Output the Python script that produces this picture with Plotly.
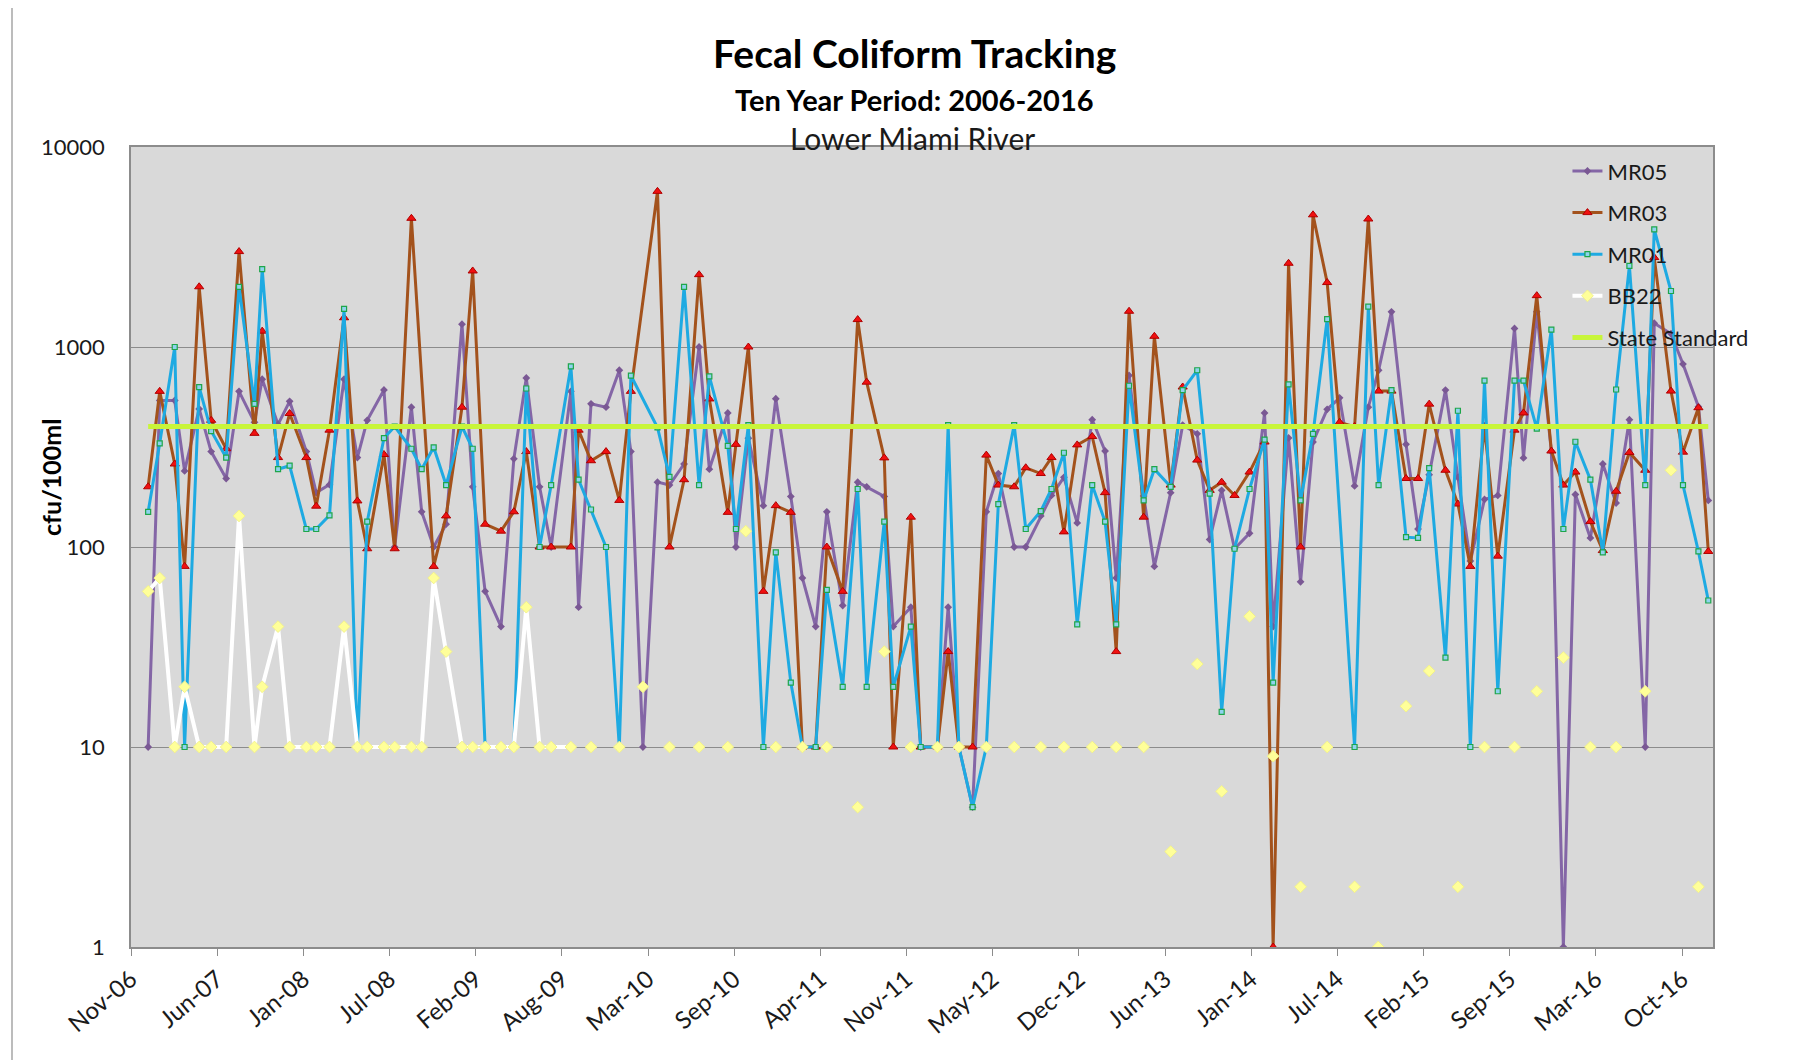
import pandas as pd
import plotly.graph_objects as go

# ---------------- data ----------------
sample_dates = [
    "2007-01-06", "2007-02-02", "2007-03-09", "2007-04-01", "2007-05-05", "2007-06-02",
    "2007-07-07", "2007-08-06", "2007-09-11", "2007-09-29", "2007-11-05", "2007-12-02",
    "2008-01-10", "2008-02-02", "2008-03-04", "2008-04-07", "2008-05-08", "2008-05-31",
    "2008-07-09", "2008-08-03", "2008-09-11", "2008-10-05", "2008-11-02", "2008-12-01",
    "2009-01-07", "2009-02-01", "2009-03-02", "2009-04-08", "2009-05-08", "2009-06-06",
    "2009-07-07", "2009-08-03", "2009-09-18", "2009-10-06", "2009-11-04", "2009-12-09",
    "2010-01-09", "2010-02-05", "2010-03-05", "2010-04-08", "2010-05-06", "2010-06-09",
    "2010-07-14", "2010-08-07", "2010-09-19", "2010-10-08", "2010-11-06", "2010-12-11",
    "2011-01-09", "2011-02-13", "2011-03-12", "2011-04-12", "2011-05-08", "2011-06-14",
    "2011-07-19", "2011-08-09", "2011-09-19", "2011-10-10", "2011-11-20", "2011-12-13",
    "2012-01-21", "2012-02-15", "2012-03-11", "2012-04-12", "2012-05-14", "2012-06-11",
    "2012-07-18", "2012-08-14", "2012-09-18", "2012-10-13", "2012-11-11", "2012-12-12",
    "2013-01-16", "2013-02-15", "2013-03-13", "2013-04-12", "2013-05-16", "2013-06-10",
    "2013-07-18", "2013-08-15", "2013-09-18", "2013-10-17", "2013-11-14", "2013-12-14",
    "2014-01-18", "2014-02-22", "2014-03-14", "2014-04-19", "2014-05-17", "2014-06-15",
    "2014-07-18", "2014-08-16", "2014-09-20", "2014-10-22", "2014-11-15", "2014-12-15",
    "2015-01-18", "2015-02-15", "2015-03-13", "2015-04-20", "2015-05-19", "2015-06-17",
    "2015-07-20", "2015-08-20", "2015-09-28", "2015-10-19", "2015-11-19", "2015-12-23",
    "2016-01-20", "2016-02-17", "2016-03-23", "2016-04-21", "2016-05-22", "2016-06-22",
    "2016-07-29", "2016-08-19", "2016-09-27", "2016-10-25", "2016-11-30", "2016-12-23",
]

mr05 = [
    10, 540, 540, 240, 490, 300, 220, 600, 420, 690, 410, 535,
    300, 187, 205, 690, 280, 430, 610, 100, 500, 150, 100, 130,
    1300, 200, 60, 40, 276, 700, 200, 100, 600, 50, 520, 500,
    765, 300, 10, 211, 204, 260, 1000, 245, 468, 100, 350, 161,
    551, 179, 70, 40, 150, 51, 211, 200, 179, 40, 50, 10,
    10, 50, 10, 5, 150, 233, 100, 100, 143, 181, 223, 132,
    433, 302, 70, 721, 180, 80, 187, 407, 368, 109, 192, 98,
    117, 468, 40, 351, 67, 335, 488, 557, 202, 500, 765, 1500,
    326, 123, 230, 609, 223, 85, 173, 181, 1238, 279, 1500, 300,
    1, 183, 111, 260, 166, 433, 10, 1315, 1165, 822, 503, 171,
]

mr03 = [
    200, 600, 260, 80, 2000, 430, 310, 3000, 370, 1200, 280, 465,
    280, 160, 384, 1400, 170, 98, 290, 98, 4400, None, 80, 143,
    500, 2400, 130, 120, 150, 300, 100, 100, 100, 384, 270, 300,
    171, 600, None, 6000, 100, 217, 2300, 550, 149, 326, 1000, 60,
    161, 149, 10, 10, 100, 60, 1371, 667, 279, 10, 141, 10,
    10, 30, 10, 10, 288, 204, 200, 249, 233, 280, 119, 324,
    357, 187, 30, 1509, 141, 1131, 204, 631, 272, 192, 211, 181,
    237, 335, 1, 2622, 100, 4580, 2100, 420, 400, 4365, 602, 602,
    220, 220, 518, 242, 164, 80, 400, 90, 384, 468, 1806, 302,
    204, 237, 134, 96, 190, 297, 242, 2800, 602, 298, 497, 95,
]

mr01 = [
    150, 330, 1000, 10, 630, 380, 280, 2000, 520, 2450, 245, 255,
    123, 123, 144, 1550, 10, 134, 350, 400, 310, 245, 315, 204,
    400, 310, 10, 10, 10, 620, 100, 204, 800, 217, 154, 100,
    10, 720, None, 396, 224, 2000, 204, 713, 320, 123, 407, 10,
    94, 21, 10, 10, 61, 20, 195, 20, 134, 20, 40, 10,
    10, 407, 10, 5, 10, 164, 407, 123, 151, 195, 296, 41,
    204, 134, 41, 640, 171, 245, 200, 609, 765, 185, 15, 98,
    195, 344, 21, 651, 171, 368, 1378, None, 10, 1592, 204, 609,
    112, 111, 248, 28, 480, 10, 679, 19, 679, 679, 391, 1222,
    123, 336, 217, 94, 613, 2544, 204, 3873, 1905, 204, 95, 54,
]

# BB22: joined readings (same dates as the first 33 samples), then isolated readings
bb22_joined = [
    60, 70, 10, 20, 10, 10, 10, 143, 10, 20, 40, 10,
    10, 10, 10, 40, 10, 10, 10, 10, 10, 10, 70, 30,
    10, 10, 10, 10, 10, 50, 10, 10, 10,
]
bb22_iso_dates = [
    "2009-11-04", "2010-01-09", "2010-03-05", "2010-05-06", "2010-07-14", "2010-09-19",
    "2010-10-31", "2011-01-09", "2011-03-12", "2011-05-08", "2011-07-19", "2011-09-19",
    "2011-11-20", "2012-01-21", "2012-03-11", "2012-05-14", "2012-07-18", "2012-09-18",
    "2012-11-11", "2013-01-16", "2013-03-13", "2013-05-16", "2013-07-18", "2013-09-18",
    "2013-11-14", "2014-01-18", "2014-03-14", "2014-05-17", "2014-07-18", "2014-09-20",
    "2014-11-14", "2015-01-18", "2015-03-13", "2015-05-19", "2015-07-20", "2015-09-28",
    "2015-11-19", "2016-01-20", "2016-03-23", "2016-05-22", "2016-07-29", "2016-09-27",
    "2016-11-30",
]
bb22_iso_values = [
    10, 10, 20, 10, 10, 10,
    120, 10, 10, 10, 5, 30,
    10, 10, 10, 10, 10, 10,
    10, 10, 10, 10, 3, 26,
    6, 45, 9, 2, 10, 2,
    1, 16, 24, 2, 10, 10,
    19, 28, 10, 10, 19, 242,
    2,
]

state_standard = 400

tick_labels = ["Nov-06", "Jun-07", "Jan-08", "Jul-08", "Feb-09", "Aug-09", "Mar-10",
               "Sep-10", "Apr-11", "Nov-11", "May-12", "Dec-12", "Jun-13", "Jan-14",
               "Jul-14", "Feb-15", "Sep-15", "Mar-16", "Oct-16"]
axis_start = "2006-11-27"
axis_end = "2017-01-03"
tick_step_days = 201

# ---------------- figure ----------------
tick_vals = pd.date_range(axis_start, periods=len(tick_labels), freq=f"{tick_step_days}D")

# BB22 trace: line for joined part, gaps between isolated readings
bb_x = list(sample_dates[:len(bb22_joined)])
bb_y = list(bb22_joined)
for d, v in zip(bb22_iso_dates, bb22_iso_values):
    bb_x.append(d)
    bb_y.append(None)
    bb_x.append(d)
    bb_y.append(v)

FONT = "Lato, Carlito, Calibri, 'Open Sans', sans-serif"

fig = go.Figure()
fig.add_trace(go.Scatter(
    x=sample_dates, y=mr05, name="MR05", mode="lines+markers", connectgaps=True,
    legendgroup="a",
    line=dict(color="#8466A6", width=3),
    marker=dict(symbol="diamond", size=6, color="#7A5894", line=dict(width=0)),
))
fig.add_trace(go.Scatter(
    x=sample_dates, y=mr03, name="MR03", mode="lines+markers", connectgaps=True,
    legendgroup="b",
    line=dict(color="#A3521C", width=3),
    marker=dict(symbol="triangle-up", size=8, color="#F01010", line=dict(width=1, color="#B00000")),
))
fig.add_trace(go.Scatter(
    x=sample_dates, y=mr01, name="MR01", mode="lines+markers", connectgaps=True,
    legendgroup="c",
    line=dict(color="#1EAAE2", width=3),
    marker=dict(symbol="square", size=5, color="#8FD3EE", line=dict(width=1.2, color="#1FA64A")),
))
fig.add_trace(go.Scatter(
    x=bb_x, y=bb_y, name="BB22", mode="lines+markers", connectgaps=False,
    legendgroup="d",
    line=dict(color="#FFFFFF", width=4),
    marker=dict(symbol="diamond", size=9, color="#FFFF99", line=dict(width=1, color="#F2F28C")),
))
fig.add_trace(go.Scatter(
    x=sample_dates, y=[state_standard] * len(sample_dates), name="State Standard",
    mode="lines", legendgroup="e",
    line=dict(color="#C8F53A", width=5),
))

# the page body adds an 8px offset; the figure is sized so the plot area lands
# at the same place as in the reference
fig.update_layout(
    width=1807, height=1052,
    margin=dict(l=123, r=102, t=139, b=113),
    paper_bgcolor="#FFFFFF",
    plot_bgcolor="#D9D9D9",
    font=dict(family=FONT, size=22, color="#1A1A1A"),
    showlegend=True,
    legend=dict(
        x=0.908, y=0.996, xanchor="left", yanchor="top",
        bgcolor="rgba(0,0,0,0)", borderwidth=0,
        font=dict(family=FONT, size=22, color="#1A1A1A"),
        tracegroupgap=10,
    ),
    xaxis=dict(
        type="date",
        range=[axis_start, axis_end],
        tickmode="array", tickvals=tick_vals, ticktext=tick_labels,
        tickangle=-40,
        ticks="outside", ticklen=7, tickcolor="#8C8C8C",
        showgrid=False, zeroline=False,
        showline=True, linecolor="#8C8C8C", linewidth=1.5, mirror=True,
        tickfont=dict(family=FONT, size=24, color="#1A1A1A"),
    ),
    yaxis=dict(
        type="log", range=[0, 4],
        tickmode="array", tickvals=[1, 10, 100, 1000, 10000],
        ticktext=["1", "10", "100", "1000", "10000"],
        showgrid=True, gridcolor="#8C8C8C", gridwidth=1.3,
        ticks="", zeroline=False,
        showline=True, linecolor="#8C8C8C", linewidth=1.5, mirror=True,
        tickfont=dict(family=FONT, size=22, color="#1A1A1A"),
        ticklabelstandoff=20,
    ),
    annotations=[
        dict(text="<b>Fecal Coliform Tracking</b>", xref="paper", yref="paper",
             x=0.495, y=1.1175, xanchor="center", yanchor="middle", showarrow=False,
             font=dict(family=FONT, size=39, color="#000000")),
        dict(text="<b>Ten Year Period: 2006-2016</b>", xref="paper", yref="paper",
             x=0.495, y=1.0588, xanchor="center", yanchor="middle", showarrow=False,
             font=dict(family=FONT, size=29, color="#000000")),
        dict(text="Lower Miami River", xref="paper", yref="paper",
             x=0.494, y=1.011, xanchor="center", yanchor="middle", showarrow=False,
             font=dict(family=FONT, size=30, color="#1A1A1A")),
        dict(text="<b>cfu/100ml</b>", xref="paper", yref="paper",
             x=-0.0506, y=0.5875, xanchor="center", yanchor="middle", showarrow=False,
             textangle=-90,
             font=dict(family=FONT, size=25, color="#000000")),
    ],
    shapes=[
        dict(type="line", xref="paper", yref="paper",
             x0=(12 - 131) / 1582, x1=1.07, y0=(947 - 7) / 800, y1=(947 - 7) / 800,
             line=dict(color="#A6A6A6", width=1.5)),
        dict(type="line", xref="paper", yref="paper",
             x0=(12 - 131) / 1582, x1=(12 - 131) / 1582, y0=(947 - 7) / 800, y1=-0.2,
             line=dict(color="#A6A6A6", width=1.5)),
    ],
)

fig.write_html("out.html")
